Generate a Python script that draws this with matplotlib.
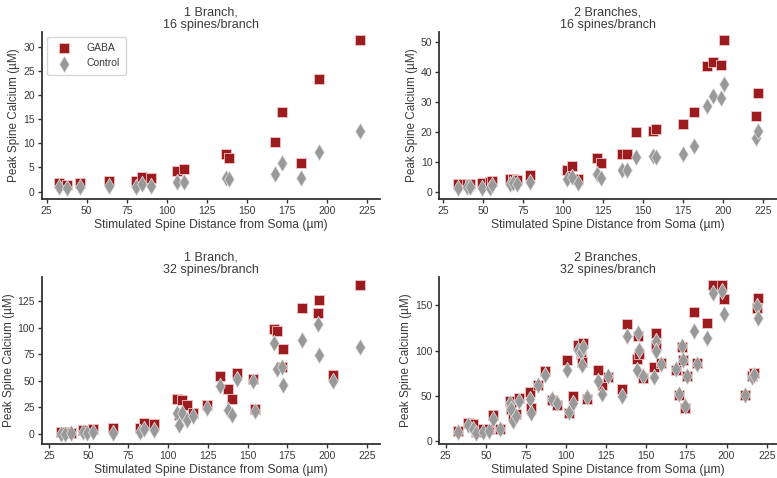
import matplotlib.pyplot as plt

plt.rcParams['font.family'] = ['Liberation Sans', 'DejaVu Sans']

gaba_color = '#9b1b1f'
ctrl_color = '#999999'

# 1 branch, 16 spines/branch
x_b1_s16 = [32.9, 37.5, 45.8, 64.2, 80.8, 84.4, 90.2, 106.3, 111.0, 137.0, 139.2,
            167.9, 172.1, 184.2, 195.2, 220.8]
gaba_b1_s16 = [1.7, 1.4, 1.7, 2.2, 2.1, 3.1, 2.9, 4.3, 4.7, 7.8, 6.9,
               10.3, 16.5, 5.9, 23.4, 31.4]
ctrl_b1_s16 = [1.0, 0.7, 0.9, 1.2, 0.9, 1.5, 1.2, 1.9, 2.0, 2.9, 2.6,
               3.7, 5.9, 2.9, 8.2, 12.6]

# 2 branches, 16 spines/branch
x_b2_s16 = [34.0, 40.0, 41.7, 49.0, 54.0, 55.2, 66.7, 68.3, 71.3, 79.2, 102.1,
            105.2, 109.4, 120.8, 123.3, 136.5, 139.6, 145.4, 156.3, 157.7, 174.6,
            181.5, 189.6, 193.8, 198.8, 200.6, 220.6, 221.9]
gaba_b2_s16 = [2.7, 2.8, 2.8, 3.2, 3.6, 3.9, 4.6, 4.6, 4.1, 5.8, 7.4,
               8.8, 4.6, 11.3, 9.6, 12.8, 12.8, 20.0, 20.4, 21.0, 22.7,
               26.7, 41.8, 43.1, 42.3, 50.7, 25.4, 33.0]
ctrl_b2_s16 = [1.5, 1.7, 1.9, 1.5, 1.5, 2.6, 2.7, 3.0, 2.7, 3.5, 4.6,
               5.2, 3.0, 6.0, 4.9, 7.3, 7.3, 11.6, 12.1, 11.7, 12.8,
               15.5, 28.8, 32.0, 31.3, 36.0, 17.9, 20.4]

# 1 branch, 32 spines/branch
x_b1_s32 = [32.3, 35.1, 38.6, 46.6, 48.7, 52.5, 65.5, 82.3, 85.0, 91.1, 105.8,
            107.1, 108.5, 111.7, 115.9, 124.7, 132.7, 137.9, 140.0, 143.6, 153.6,
            154.7, 166.7, 168.8, 171.5, 172.5, 184.5, 194.1, 195.2, 204.0, 220.8]
gaba_b1_s32 = [1.9, 1.6, 1.3, 3.8, 3.8, 4.4, 6.0, 6.0, 10.4, 9.4, 33.3,
               17.9, 32.0, 27.6, 19.5, 27.6, 54.6, 42.1, 32.7, 57.2, 51.5,
               23.2, 99.2, 97.4, 63.4, 79.8, 119.0, 114.3, 126.3, 55.9, 140.4]
ctrl_b1_s32 = [0.5, 0.3, 0.6, 1.9, 1.3, 1.9, 1.3, 1.6, 4.4, 3.8, 19.5,
               8.5, 20.1, 13.2, 17.3, 24.8, 45.2, 22.6, 17.9, 51.5, 49.9,
               22.0, 86.0, 60.9, 62.8, 46.2, 88.5, 103.6, 74.4, 49.9, 82.3]

# 2 branches, 32 spines/branch
x_b2_s32 = [32.9, 39.1, 42.0, 43.9, 48.5, 52.2, 54.3, 58.9, 65.1, 65.8, 67.2,
            68.5, 70.9, 77.6, 78.2, 82.7, 86.9, 91.0, 94.2, 100.8, 102.1, 104.1,
            107.5, 109.2, 109.7, 110.8, 112.8, 120.1, 122.2, 126.3, 135.1, 137.8,
            144.0, 145.0, 145.5, 147.7, 154.8, 155.8, 156.2, 159.0, 168.5, 170.6,
            172.0, 173.1, 174.1, 175.6, 179.7, 181.8, 187.6, 191.8, 197.0, 198.6,
            211.5, 216.1, 217.3, 218.8, 219.8]
gaba_b2_s32 = [11.3, 20.5, 19.5, 10.2, 13.9, 13.9, 28.5, 13.2, 44.3, 36.0, 27.8,
               30.0, 47.9, 54.2, 37.0, 62.6, 77.2, 45.4, 39.5, 89.3, 30.7, 50.5,
               106.5, 96.0, 87.1, 108.3, 46.1, 78.3, 62.6, 70.5, 58.2, 129.2,
               90.7, 116.4, 96.6, 69.9, 81.6, 118.9, 106.5, 86.4, 78.3, 50.9,
               103.9, 90.0, 37.0, 72.4, 142.7, 86.4, 131.0, 172.3, 172.3, 156.6,
               51.6, 72.4, 75.4, 147.5, 157.7]
ctrl_b2_s32 = [10.6, 17.5, 14.0, 9.5, 10.2, 11.3, 24.1, 13.2, 42.4, 35.1, 22.3,
               27.8, 44.3, 46.8, 30.7, 62.6, 73.5, 46.1, 41.7, 79.0, 32.2, 42.4,
               101.0, 98.0, 84.5, 103.9, 49.0, 66.5, 52.3, 71.7, 49.8, 116.4,
               78.3, 119.3, 100.9, 72.4, 70.6, 110.2, 99.2, 85.7, 79.8, 52.7,
               105.4, 89.3, 38.8, 71.7, 121.2, 85.7, 113.7, 163.8, 166.0, 140.8,
               51.6, 71.0, 73.5, 149.3, 135.7]

panels = [
    ('1 Branch,\n16 spines/branch', x_b1_s16, gaba_b1_s16, ctrl_b1_s16,
     [0.0537, 0.583, 0.4354, 0.3506], (21.9, 233.3), (-1.6, 33.1), range(0, 31, 5)),
    ('2 Branches,\n16 spines/branch', x_b2_s16, gaba_b2_s16, ctrl_b2_s16,
     [0.5654, 0.583, 0.434, 0.3506], (22.5, 233.3), (-2.3, 53.3), range(0, 51, 10)),
    ('1 Branch,\n32 spines/branch', x_b1_s32, gaba_b1_s32, ctrl_b1_s32,
     [0.0537, 0.0711, 0.4354, 0.35], (20.4, 233.4), (-9.4, 148.2), range(0, 126, 25)),
    ('2 Branches,\n32 spines/branch', x_b2_s32, gaba_b2_s32, ctrl_b2_s32,
     [0.5654, 0.0711, 0.434, 0.35], (21.0, 231.1), (-3.0, 181.5), range(0, 151, 50)),
]

text_color = '#3a3a3a'
fig = plt.figure(figsize=(7.77, 4.78), dpi=100)

for i, (title, x, gaba, ctrl, rect, xlim, ylim, yticks) in enumerate(panels):
    ax = fig.add_axes(rect)
    ax.scatter(x, gaba, marker='s', s=45, color=gaba_color,
               edgecolor='#f2c4c4', linewidth=0.6, label='GABA', zorder=3)
    ax.scatter(x, ctrl, marker='d', s=70, color=ctrl_color,
               edgecolor='#e6e6e6', linewidth=0.5, label='Control', zorder=4)
    ax.set_xlim(*xlim)
    ax.set_ylim(*ylim)
    ax.set_xticks(range(25, 226, 25))
    ax.set_yticks(list(yticks))
    for side in ['top', 'right']:
        ax.spines[side].set_visible(False)
    for side in ['left', 'bottom']:
        ax.spines[side].set_color('#333333')
        ax.spines[side].set_linewidth(1.3)
    ax.tick_params(labelsize=7.5, colors='#333333', labelcolor=text_color,
                   length=3, width=1, pad=2)
    ax.set_title(title, fontsize=9, color=text_color, pad=3, linespacing=1.0)
    ax.set_xlabel('Stimulated Spine Distance from Soma (µm)', fontsize=8.7,
                  color=text_color, labelpad=2)
    ax.set_ylabel('Peak Spine Calcium (µM)', fontsize=8.5, color=text_color,
                  labelpad=2)
    if i == 0:
        leg = ax.legend(loc='upper left', fontsize=7.5, frameon=True,
                        borderpad=0.6, handletextpad=1.2, labelspacing=0.5)
        leg.get_frame().set_edgecolor('#cccccc')
        for t in leg.get_texts():
            t.set_color(text_color)

fig.savefig('out.png', dpi=100)
